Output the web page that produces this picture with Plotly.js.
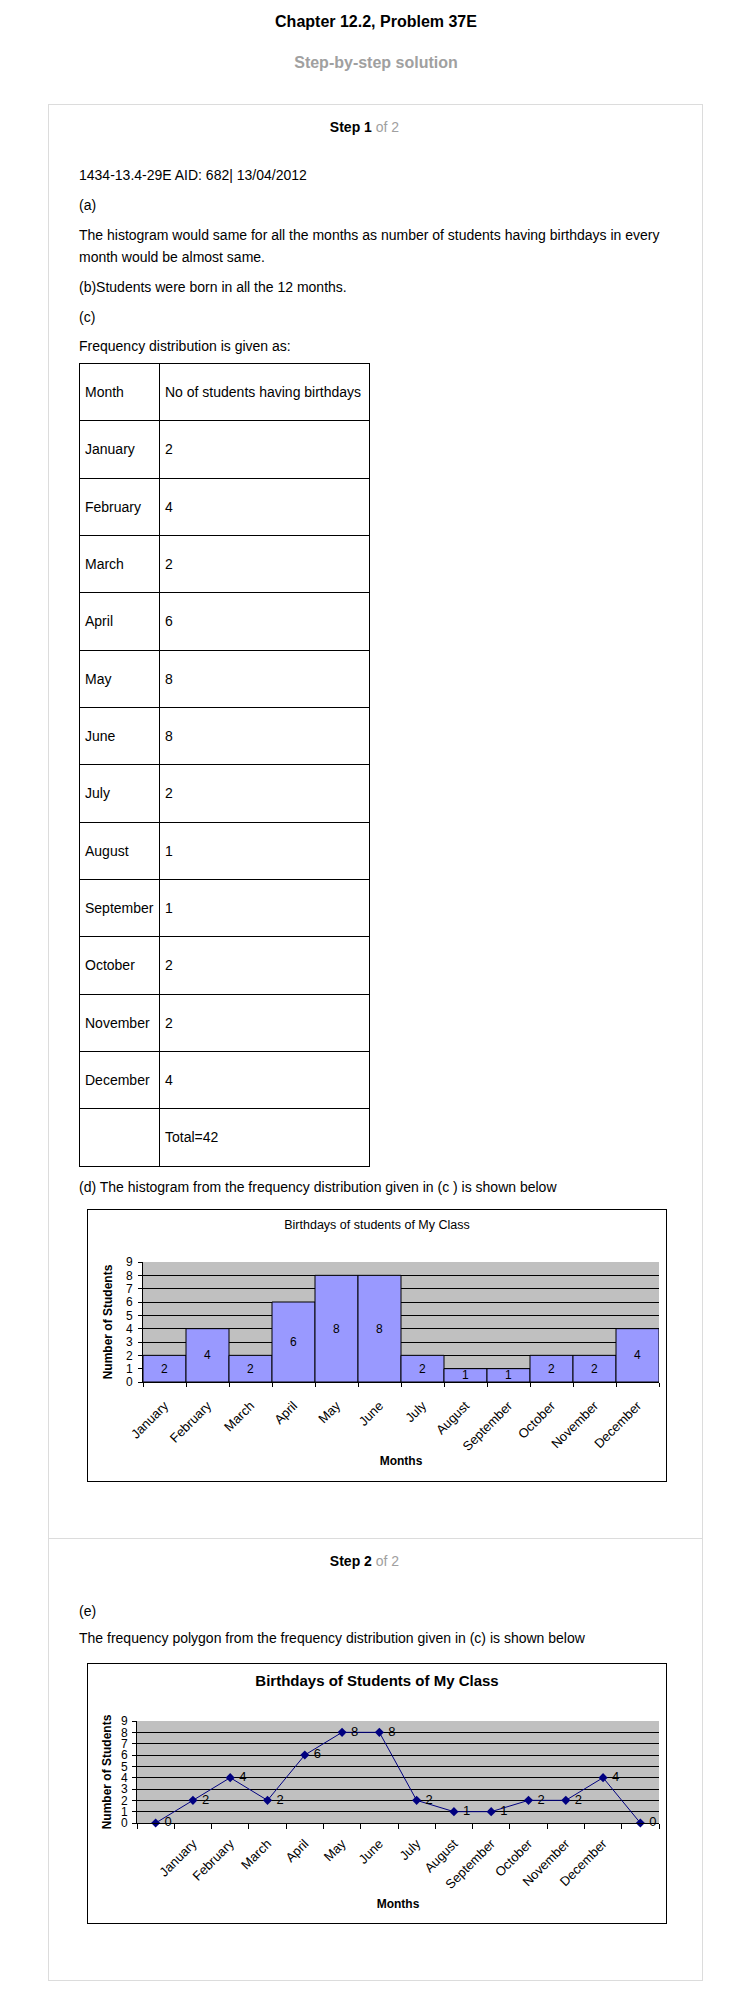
<!DOCTYPE html>
<html>
<head>
<meta charset="utf-8">
<script src="https://cdn.plot.ly/plotly-3.0.1.min.js"></script>
<style>
  html, body { margin: 0; padding: 0; background: #fff; }
  body { font-family: Arial, "Liberation Sans", sans-serif; color: #000; }
  .page { position: relative; width: 752px; height: 2008px; overflow: hidden; }
  .t { position: absolute; white-space: nowrap; font-size: 14px; line-height: 20px; left: 79px; }
  .c { left: 0; width: 752px; text-align: center; }
  .step { left: 0; width: 729px; text-align: center; font-weight: bold; }
  .step span { font-weight: normal; color: #a0a0a0; }
  .box { position: absolute; left: 48px; top: 104px; width: 653px; height: 1875px; border: 1px solid #dcdcdc; }
  .sep { position: absolute; left: 48px; top: 1538px; width: 655px; height: 1px; background: #dcdcdc; }
  table.freq { position: absolute; left: 79px; top: 363px; border-collapse: collapse; font-size: 14px; }
  table.freq td { border: 1px solid #000; padding: 0 0 0 5px; vertical-align: middle; white-space: nowrap; }
  table.freq tr { height: 57.33px; }
  .chartbox { position: absolute; left: 87px; border: 1px solid #000; width: 578px; }
</style>
</head>
<body>
<div class="page">
  <div class="t c" style="top:12px;font-size:16px;font-weight:bold;">Chapter 12.2, Problem 37E</div>
  <div class="t c" style="top:53px;font-size:16px;font-weight:bold;color:#a0a0a0;">Step-by-step solution</div>
  <div class="box"></div>
  <div class="sep"></div>

  <div class="t step" style="top:117px;">Step 1 <span>of 2</span></div>
  <div class="t" style="top:165px;">1434-13.4-29E AID: 682| 13/04/2012</div>
  <div class="t" style="top:195px;">(a)</div>
  <div class="t" style="top:225px;">The histogram would same for all the months as number of students having birthdays in every</div>
  <div class="t" style="top:247px;">month would be almost same.</div>
  <div class="t" style="top:277px;">(b)Students were born in all the 12 months.</div>
  <div class="t" style="top:307px;">(c)</div>
  <div class="t" style="top:336px;">Frequency distribution is given as:</div>

  <table class="freq" id="freq">
    <colgroup><col style="width:80px"><col style="width:210px"></colgroup>
    <tbody id="freqbody"></tbody>
  </table>

  <div class="t" style="top:1177px;">(d) The histogram from the frequency distribution given in (c ) is shown below</div>
  <div class="chartbox" style="top:1209px;height:271px;"><div id="chart1"></div></div>

  <div class="t step" style="top:1551px;">Step 2 <span>of 2</span></div>
  <div class="t" style="top:1601px;">(e)</div>
  <div class="t" style="top:1628px;">The frequency polygon from the frequency distribution given in (c) is shown below</div>
  <div class="chartbox" style="top:1663px;height:259px;"><div id="chart2"></div></div>
</div>

<script>
// ---- data ----
const months = ['January','February','March','April','May','June','July','August','September','October','November','December'];
const students = [2, 4, 2, 6, 8, 8, 2, 1, 1, 2, 2, 4];
const tableHeader = ['Month', 'No of students having birthdays'];
const histTitle = 'Birthdays of students of My Class';
const polyTitle = 'Birthdays of Students of My Class';
const xTitle = 'Months';
const yTitle = 'Number of Students';

// ---- table ----
const tb = document.getElementById('freqbody');
function addRow(a, b) {
  const tr = document.createElement('tr');
  const td1 = document.createElement('td'); td1.textContent = a;
  const td2 = document.createElement('td'); td2.textContent = b;
  tr.appendChild(td1); tr.appendChild(td2); tb.appendChild(tr);
}
addRow(tableHeader[0], tableHeader[1]);
months.forEach((m, i) => addRow(m, String(students[i])));
addRow('', 'Total=' + students.reduce((s, v) => s + v, 0));

const F = 'Arial, "Liberation Sans", sans-serif';

// ---- histogram ----
Plotly.newPlot('chart1', [{
  type: 'bar', x: months, y: students,
  marker: { color: '#9999FF', line: { color: '#000', width: 1 } },
  text: students.map(String), textposition: 'inside', insidetextanchor: 'middle',
  textangle: 0, constraintext: 'none',
  textfont: { family: F, size: 12, color: '#000' },
  hoverinfo: 'skip'
}], {
  width: 578, height: 271,
  margin: { l: 55, r: 7, t: 52, b: 99 },
  paper_bgcolor: '#fff', plot_bgcolor: '#C0C0C0',
  bargap: 0, showlegend: false,
  title: { text: histTitle, font: { family: F, size: 12.5, color: '#000' },
           x: 0.5, xref: 'container', y: 1 - 15/271, yref: 'container', yanchor: 'middle' },
  xaxis: { type: 'category', tickson: 'boundaries', ticks: 'outside', ticklen: 4, tickcolor: '#000',
           showline: true, linecolor: '#000', linewidth: 1, showgrid: false, tickangle: -45,
           ticklabelstandoff: 10,
           tickfont: { family: F, size: 13, color: '#000' },
           title: { text: xTitle, font: { family: F, size: 12, color: '#000', weight: 'bold' }, standoff: 3 } },
  yaxis: { range: [0, 9], tick0: 0, dtick: 1, showgrid: true, gridcolor: '#000', gridwidth: 1,
           zeroline: false, ticks: 'outside', ticklen: 4, tickcolor: '#000',
           showline: true, linecolor: '#000', linewidth: 1, ticklabelstandoff: 3,
           tickfont: { family: F, size: 12, color: '#000' },
           title: { text: yTitle, font: { family: F, size: 12, color: '#000', weight: 'bold' }, standoff: 10 } }
}, { staticPlot: true });

// ---- frequency polygon ----
const polyVals = [0].concat(students, [0]);
const polyX = polyVals.map((v, i) => i);
Plotly.newPlot('chart2', [{
  type: 'scatter', mode: 'lines+markers+text', x: polyX, y: polyVals,
  line: { color: '#000080', width: 1 },
  marker: { symbol: 'diamond', size: 7, color: '#000080' },
  text: polyVals.map(String), texttemplate: '\u00a0%{text}', textposition: 'middle right',
  textfont: { family: F, size: 13, color: '#000' },
  hoverinfo: 'skip', cliponaxis: false
}], {
  width: 578, height: 259,
  margin: { l: 49, r: 7, t: 57, b: 100 },
  paper_bgcolor: '#fff', plot_bgcolor: '#C0C0C0', showlegend: false,
  title: { text: polyTitle, font: { family: F, size: 15, color: '#000', weight: 'bold' },
           x: 0.5, xref: 'container', y: 1 - 17/259, yref: 'container', yanchor: 'middle' },
  xaxis: { range: [-0.5, polyVals.length - 0.5], tickmode: 'array',
           tickvals: months.map((m, i) => i + 1), ticktext: months, ticks: '',
           minor: { tickmode: 'array', tickvals: polyVals.map((v, i) => i - 0.5).concat([polyVals.length - 0.5]),
                    ticks: 'outside', ticklen: 5, tickcolor: '#000', showgrid: false },
           showline: true, linecolor: '#000', linewidth: 1, showgrid: false, zeroline: false, tickangle: -45,
           ticklabelstandoff: 7,
           tickfont: { family: F, size: 13, color: '#000' },
           title: { text: xTitle, font: { family: F, size: 12, color: '#000', weight: 'bold' }, standoff: 8 } },
  yaxis: { range: [0, 9], tick0: 0, dtick: 1, showgrid: true, gridcolor: '#000', gridwidth: 1,
           zeroline: false, ticks: 'outside', ticklen: 4, tickcolor: '#000',
           showline: true, linecolor: '#000', linewidth: 1, ticklabelstandoff: 2,
           tickfont: { family: F, size: 12, color: '#000' },
           title: { text: yTitle, font: { family: F, size: 12, color: '#000', weight: 'bold' }, standoff: 6 } }
}, { staticPlot: true });
</script>
</body>
</html>
